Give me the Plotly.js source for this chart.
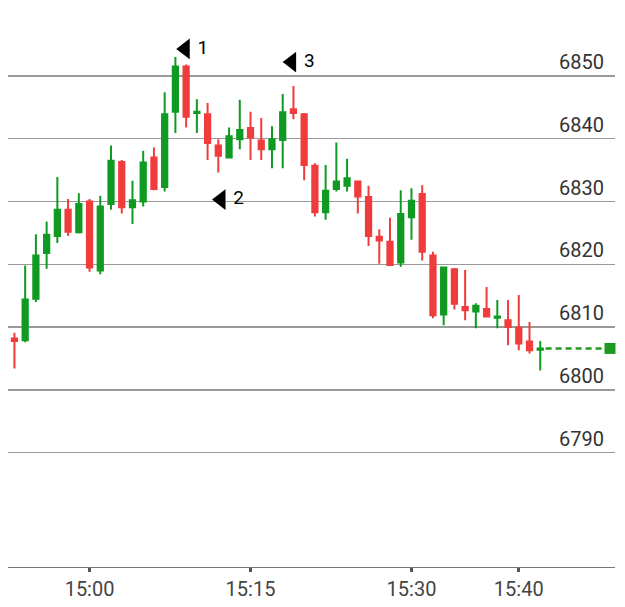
<!DOCTYPE html>
<html>
<head>
<meta charset="utf-8">
<script src="https://cdn.plot.ly/plotly-3.0.1.min.js"></script>
<style>
html,body{margin:0;padding:0;background:#fff;}
#chart{width:625px;height:607px;}
</style>
</head>
<body>
<div id="chart"></div>
<script>
// ---- data ----
const day = "2024-01-02 ";
const times = ["14:53","14:54","14:55","14:56","14:57","14:58","14:59","15:00","15:01","15:02",
               "15:03","15:04","15:05","15:06","15:07","15:08","15:09","15:10","15:11","15:12",
               "15:13","15:14","15:15","15:16","15:17","15:18","15:19","15:20","15:21","15:22",
               "15:23","15:24","15:25","15:26","15:27","15:28","15:29","15:30","15:31","15:32",
               "15:33","15:34","15:35","15:36","15:37","15:38","15:39","15:40","15:41","15:42"];
const open  = [6808.2,6807.9,6814.5,6821.8,6824.5,6828.7,6825.1,6830.0,6819.0,6829.6,
               6836.3,6829.1,6830.0,6837.0,6832.3,6844.3,6851.5,6844.1,6843.9,6838.9,
               6837.0,6839.9,6841.7,6839.7,6838.3,6839.8,6844.7,6843.9,6835.7,6828.3,
               6832.0,6832.5,6833.2,6830.7,6824.4,6823.6,6820.3,6827.5,6831.2,6821.4,
               6812.0,6819.2,6813.2,6812.5,6812.9,6811.5,6811.1,6809.9,6807.7,6806.4];
const high  = [6809.1,6819.8,6824.8,6826.8,6833.9,6830.4,6831.3,6830.4,6830.9,6838.9,
               6836.6,6833.3,6838.1,6838.6,6847.4,6853.0,6851.8,6846.3,6845.7,6839.9,
               6841.8,6846.2,6844.3,6843.3,6842.0,6847.1,6848.4,6844.1,6836.1,6835.8,
               6839.4,6836.8,6833.3,6832.5,6825.6,6827.4,6831.8,6832.1,6832.6,6822.0,
               6819.6,6819.4,6819.1,6813.8,6816.4,6814.3,6814.3,6815.1,6810.8,6807.8];
const low   = [6803.4,6807.6,6814.0,6819.3,6823.4,6824.5,6824.9,6818.8,6818.4,6828.7,
               6828.1,6826.4,6829.2,6831.8,6831.6,6840.9,6841.8,6840.9,6836.6,6834.6,
               6836.9,6838.3,6836.6,6836.6,6835.3,6835.3,6843.1,6833.4,6827.6,6827.1,
               6831.6,6831.6,6828.1,6822.9,6820.1,6819.9,6819.6,6823.9,6820.6,6811.4,
               6810.3,6812.8,6811.1,6809.8,6811.6,6809.8,6807.1,6806.3,6805.8,6803.1];
const close = [6807.8,6814.4,6821.4,6824.7,6828.7,6825.2,6829.6,6819.5,6829.2,6836.5,
               6829.1,6830.2,6836.2,6832.0,6843.9,6851.5,6843.5,6844.3,6839.3,6837.3,
               6840.4,6841.4,6840.2,6838.3,6839.9,6844.2,6844.1,6835.8,6828.3,6831.7,
               6833.2,6833.7,6830.8,6824.5,6823.8,6819.9,6828.0,6830.1,6822.0,6811.9,
               6819.5,6813.7,6812.7,6813.4,6811.7,6811.7,6810.0,6807.4,6806.3,6806.6];

const markTimes  = ["15:08:55","15:12:15","15:18:50"];
const markPrices = [6854.3,6830.3,6852.2];
const markLabels = ["1","2","3"];

const priceTicks = [6790,6800,6810,6820,6830,6840,6850];
const timeTicks  = ["15:00","15:15","15:30","15:40"];

// ---- build ----
const xs = times.map(t => day + t);
const lastClose = close[close.length - 1];
const lineStart = day + "15:42:30";
const lineEnd   = day + "15:48:30";

const RED = "#f03c3c", GREEN = "#0f9b22";

const traces = [
  {
    type: "candlestick",
    x: xs, open: open, high: high, low: low, close: close,
    increasing: {line: {color: GREEN, width: 2}, fillcolor: GREEN},
    decreasing: {line: {color: RED, width: 2}, fillcolor: RED},
    whiskerwidth: 0,
    hoverinfo: "none",
    showlegend: false
  },
  {
    type: "scatter", mode: "lines",
    x: [lineStart, lineEnd], y: [lastClose, lastClose],
    line: {color: "#1f9a1f", width: 2.5, dash: "6px,4px"},
    hoverinfo: "none", showlegend: false
  },
  {
    type: "scatter", mode: "markers",
    x: [lineEnd], y: [lastClose],
    marker: {symbol: "square", size: 11, color: "#1f9a1f"},
    cliponaxis: false,
    hoverinfo: "none", showlegend: false
  },
  {
    type: "scatter", mode: "markers+text",
    x: markTimes.map(t => day + t), y: markPrices,
    text: markLabels, textposition: "middle right",
    textfont: {family: "Roboto", size: 19, color: "#000"},
    marker: {symbol: "triangle-left", size: 18, color: "#000"},
    cliponaxis: false,
    hoverinfo: "none", showlegend: false
  }
];

const layout = {
  width: 625, height: 607,
  margin: {l: 8, r: 10, t: 20, b: 40},
  paper_bgcolor: "#fff", plot_bgcolor: "#fff",
  font: {family: "Roboto", size: 20, color: "#444"},
  showlegend: false,
  xaxis: {
    type: "date",
    range: [day + "14:52:24", day + "15:48:58"],
    rangeslider: {visible: false},
    tickvals: timeTicks.map(t => day + t),
    ticktext: timeTicks,
    showgrid: false, zeroline: false,
    showline: true, linecolor: "#777", linewidth: 1,
    ticks: "outside", ticklen: 4, tickwidth: 3, tickcolor: "#555",
    tickfont: {family: "Roboto", size: 20, color: "#444"},
    fixedrange: true
  },
  yaxis: {
    side: "right",
    range: [6771.8, 6858.9],
    tickvals: priceTicks,
    ticklabelposition: "inside",
    ticklabelstandoff: 8,
    ticklabelshift: -14,
    showgrid: true, gridcolor: "#9a9a9a", gridwidth: 1.3,
    zeroline: false, showline: false, ticks: "",
    tickfont: {family: "Roboto", size: 20, color: "#333"},
    fixedrange: true
  }
};

Plotly.newPlot("chart", traces, layout, {staticPlot: true, displayModeBar: false});
</script>
</body>
</html>
